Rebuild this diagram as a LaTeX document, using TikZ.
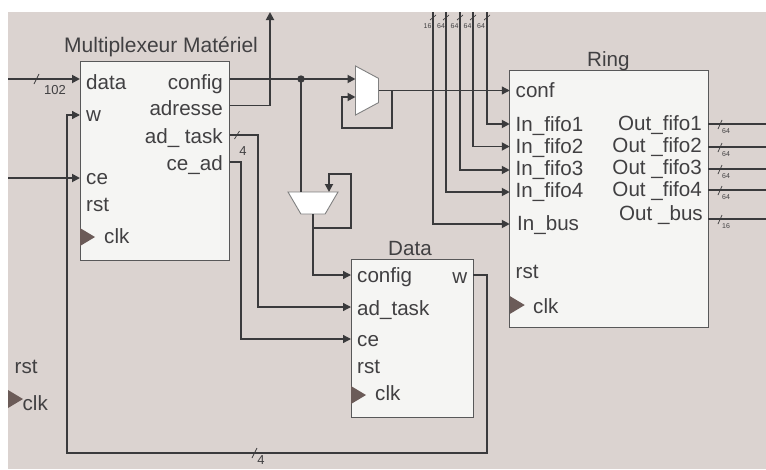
\documentclass[tikz,border=0pt]{standalone}
\usepackage{fontspec}
\setmainfont{Liberation Sans}
\usepackage{xcolor}
\usetikzlibrary{arrows.meta,shapes.geometric}
\definecolor{bgcol}{HTML}{DBD3D0}
\definecolor{boxcol}{HTML}{F5F5F3}
\definecolor{wirecol}{HTML}{3A3A3C}
\definecolor{txtcol}{HTML}{414042}
\definecolor{clkcol}{HTML}{6B5B58}

\begin{document}
\begin{tikzpicture}[
    x=1pt, y=-1pt,
    font=\fontsize{20.6}{22}\selectfont,
    text=txtcol,
    box/.style={draw=wirecol!85, line width=0.9pt, fill=boxcol, inner sep=0pt,
                outer sep=0pt},
    lbl/.style={anchor=base west, inner sep=0pt},
    lbr/.style={anchor=base east, inner sep=0pt},
    small/.style={inner sep=0pt, font=\fontsize{13}{14}\selectfont},
    tiny/.style={inner sep=0pt, font=\fontsize{7}{8}\selectfont},
    arr/.style={-{Triangle[length=8pt,width=8pt]}, wirecol, line width=1.8pt},
    thinarr/.style={-{Triangle[length=8pt,width=8pt]}, wirecol, line width=1.3pt},
    wire/.style={wirecol, line width=1.8pt},
    tick/.style={wirecol, line width=0.7pt},
    clkmark/.style={fill=clkcol},
    muxshape/.style={draw=gray, line width=0.9pt, fill=white, trapezium,
                     trapezium stretches=true, inner sep=1pt, outer sep=0pt}
]
\useasboundingbox (0,0) rectangle (766,469);
\fill[bgcol] (8,12) rectangle (766,469);

%% BLOCKS
\node[box, minimum width=149.5pt, minimum height=199pt] (mux) at (154.75,160.5) {};
\node[box, minimum width=198.5pt, minimum height=257pt] (ring) at (609,198.5) {};
\node[box, minimum width=122pt, minimum height=158pt] (data) at (412,338) {};

%% SELECTORS
\node[muxshape, shape border rotate=270, trapezium left angle=63, trapezium right angle=63,
      minimum width=49pt, minimum height=23pt] (sela) at (367,90.5) {};
\node[muxshape, shape border rotate=180, trapezium left angle=62, trapezium right angle=62,
      minimum width=50pt, minimum height=22pt] (selb) at (313,203) {};

%% TITLES
\node[lbl, font=\fontsize{21}{22}\selectfont] (tmux) at (64,52.5) {Multiplexeur Matériel};
\node[lbl] (tring) at (587,66.5) {Ring};
\node[lbl] (tdata) at (388,255) {Data};

%% LABELS: Multiplexeur
\node[lbl] (mdata) at (86,89) {data};
\node[lbl] (mw) at (86,121.5) {w};
\node[lbl] (mce) at (86,184) {ce};
\node[lbl] (mrst) at (86,211) {rst};
\node[lbl] (mclk) at (104,243) {clk};
\node[lbr] (mconfig) at (223,89) {config};
\node[lbr] (madr) at (223,115.5) {adresse};
\node[lbr] (mtask) at (223,143) {ad\_ task};
\node[lbr] (mcead) at (223,170) {ce\_ad};

%% LABELS: Ring
\node[lbl] (rconf) at (515.5,97.5) {conf};
\node[lbl] (rin1) at (515.5,131) {In\_fifo1};
\node[lbl] (rin2) at (515.5,153) {In\_fifo2};
\node[lbl] (rin3) at (515.5,175.5) {In\_fifo3};
\node[lbl] (rin4) at (515.5,197.5) {In\_fifo4};
\node[lbl] (rinb) at (517,230) {In\_bus};
\node[lbl] (rrst) at (515.5,278) {rst};
\node[lbl] (rclk) at (533,313) {clk};
\node[lbr] (rout1) at (702,130) {Out\_fifo1};
\node[lbr] (rout2) at (702,152) {Out \_fifo2};
\node[lbr] (rout3) at (702,174.5) {Out \_fifo3};
\node[lbr] (rout4) at (702,196.5) {Out \_fifo4};
\node[lbr] (routb) at (703,220) {Out \_bus};

%% LABELS: Data
\node[lbl] (dconfig) at (357,282.5) {config};
\node[lbl] (dtask) at (357,315) {ad\_task};
\node[lbl] (dce) at (357,346.5) {ce};
\node[lbl] (drst) at (357,373) {rst};
\node[lbl] (dclk) at (375,400.5) {clk};
\node[lbr] (dw) at (467.5,283) {w};

%% LABELS: free
\node[lbl] (grst) at (14.5,373) {rst};
\node[lbl] (gclk) at (22.5,410) {clk};

%% CLOCK MARKS
\fill[clkmark] (mux.west |- 0,228) -- ++(15,9) -- ++(-15,9) -- cycle;
\fill[clkmark] (ring.west |- 0,296) -- ++(15,9) -- ++(-15,9) -- cycle;
\fill[clkmark] (data.west |- 0,386) -- ++(15,9) -- ++(-15,9) -- cycle;
\fill[clkmark] (8,390) -- ++(15,9) -- ++(-15,9) -- cycle;

%% FREE ENDS
\coordinate (indata) at (8,79);
\coordinate (ince) at (8,178);
\coordinate (uptop) at (270,12);
\coordinate (top1) at (487,12);
\coordinate (top2) at (473,12);
\coordinate (top3) at (460,12);
\coordinate (top4) at (446,12);
\coordinate (topb) at (433,12);
\coordinate (end1) at (766,124);
\coordinate (end2) at (766,147);
\coordinate (end3) at (766,169);
\coordinate (end4) at (766,190);
\coordinate (endb) at (766,219);
\coordinate (jct) at (301,79);

%% ARROWS: into Multiplexeur
\draw[arr] (indata) -- (mux.west |- indata);
\draw[arr] (ince) -- (mux.west |- ince);
\draw[thinarr] (data.east |- 0,275) -- (487,275) -- (487,453) -- (67,453) -- (67,115)
    -- (mux.west |- 0,115);

%% ARROWS: out of Multiplexeur
\draw[arr] (mux.east |- jct) -- (sela.west |- jct);
\draw[arr] (mux.east |- 0,105.5) -- (uptop |- 0,105.5) -- (uptop);
\draw[thinarr] (mux.east |- 0,135) -- (258,135) -- (258,307) -- (data.west |- 0,307);
\draw[thinarr] (mux.east |- 0,162) -- (241,162) -- (241,339) -- (data.west |- 0,339);

%% config branch
\fill[wirecol] (jct) circle (3.7pt);
\draw[wire] (jct) -- (jct |- selb.north);

%% upper selector
\draw[thinarr] (sela.east) -- (ring.west |- sela.east);
\draw[arr] (392,90.5) -- (392,128) -- (342,128) -- (342,97) -- (sela.west |- 0,97);

%% lower selector
\draw[thinarr] (selb.south) -- (selb.south |- 0,275) -- (data.west |- 0,275);
\draw[arr] (selb.south |- 0,228) -- (351,228) -- (351,174) -- (329,174) -- (329,192);

%% ARROWS: into Ring
\draw[arr] (top1) |- (ring.west |- 0,124);
\draw[arr] (top2) |- (ring.west |- 0,146.5);
\draw[arr] (top3) |- (ring.west |- 0,170);
\draw[arr] (top4) |- (ring.west |- 0,192);
\draw[arr] (topb) |- (ring.west |- 0,224);

%% ARROWS: out of Ring
\draw[wire] (ring.east |- end1) -- (end1);
\draw[wire] (ring.east |- end2) -- (end2);
\draw[wire] (ring.east |- end3) -- (end3);
\draw[wire] (ring.east |- end4) -- (end4);
\draw[wire] (ring.east |- endb) -- (endb);

%% BUS WIDTHS
\draw[tick] (34,84) -- (39,74);
\node[small] (n102) at (55,90.5) {102};
\draw[tick] (234.5,139) -- (239.5,131);
\node[small] (n4a) at (243,151) {4};
\draw[tick] (252,458) -- (257,448);
\node[small] (n4b) at (261,460.5) {4};

\draw[tick] (430,20) -- (436,15);
\draw[tick] (443,20) -- (449,15);
\draw[tick] (457,20) -- (463,15);
\draw[tick] (470,20) -- (476,15);
\draw[tick] (484,20) -- (490,15);
\node[tiny] (n16) at (427.5,26.5) {16};
\node[tiny] (n64d) at (441,26.5) {64};
\node[tiny] (n64c) at (454.5,26.5) {64};
\node[tiny] (n64b) at (467.5,26.5) {64};
\node[tiny] (n64a) at (481,26.5) {64};

\draw[tick] (718,129) -- (722,120);
\draw[tick] (718,152) -- (722,143);
\draw[tick] (718,174) -- (722,165);
\draw[tick] (718,195) -- (722,186);
\draw[tick] (718,224) -- (722,215);
\node[tiny] (o1) at (726,131.5) {64};
\node[tiny] (o2) at (726,154.5) {64};
\node[tiny] (o3) at (726,176.5) {64};
\node[tiny] (o4) at (726,197.5) {64};
\node[tiny] (ob) at (726,226) {16};

\end{tikzpicture}
\end{document}
